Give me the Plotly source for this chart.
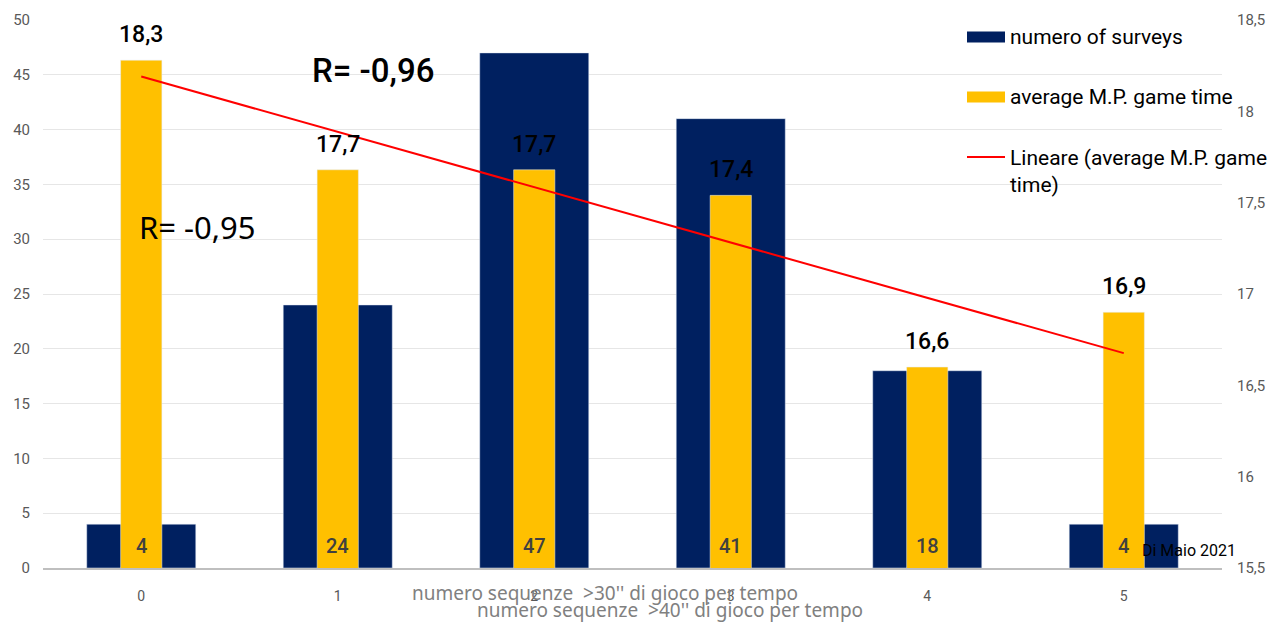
import numpy as np
import plotly.graph_objects as go

categories = [0, 1, 2, 3, 4, 5]
surveys = [4, 24, 47, 41, 18, 4]
game_time = [18.28, 17.68, 17.68, 17.54, 16.6, 16.9]
game_time_labels = ["18,3", "17,7", "17,7", "17,4", "16,6", "16,9"]
label_values = [18.3, 17.7, 17.7, 17.4, 16.6, 16.9]

NAVY = "#002060"
GOLD = "#FFC000"
RED = "#FF0000"
GRAY = "#595959"
TICKFONT = dict(family="Roboto", size=15, color=GRAY)

# linear trend of average M.P. game time (as Excel "Lineare")
slope, intercept = np.polyfit(categories, label_values, 1)
trend_x = [categories[0], categories[-1]]
trend_y = [intercept + slope * categories[0], intercept + slope * categories[-1]]

fig = go.Figure()
fig.add_trace(go.Bar(x=categories, y=surveys, width=0.555, marker_color=NAVY,
                     name="numero of surveys", yaxis="y"))
fig.add_trace(go.Bar(x=categories, y=game_time, width=0.21, marker_color=GOLD,
                     name="average M.P. game time", yaxis="y2"))
fig.add_trace(go.Scatter(x=trend_x, y=trend_y, mode="lines",
                         line=dict(color=RED, width=2),
                         name="Lineare (average M.P. game time)", yaxis="y2"))

annotations = []
for c, v in zip(categories, surveys):
    annotations.append(dict(x=c, y=0, xref="x", yref="y", text=str(v), showarrow=False,
                            yanchor="bottom", yshift=8,
                            font=dict(family="Roboto", size=20, color="#404040", weight=500)))
for c, v, t in zip(categories, game_time, game_time_labels):
    annotations.append(dict(x=c, y=v, xref="x", yref="y2", text=t, showarrow=False,
                            yanchor="bottom", yshift=10,
                            font=dict(family="Roboto", size=23, color="black", weight=500)))


def px(xp, yp):
    return (xp - 43) / (1222 - 43), (568 - yp) / (568 - 20)


for text, xp, yp, size, fam, weight, color in [
    ("R= -0,96", 373, 70, 33, "Roboto", 500, "black"),
    ("R= -0,95", 197, 227, 31, "Noto Sans", 400, "black"),
    ("Di Maio 2021", 1189, 550, 16, "Roboto", 400, "black"),
    ("numero sequenze  >30'' di gioco per tempo", 605, 593, 19, "Noto Sans", 400, "#808080"),
    ("numero sequenze  >40'' di gioco per tempo", 670, 610, 19, "Noto Sans", 400, "#808080"),
]:
    ax, ay = px(xp, yp)
    annotations.append(dict(x=ax, y=ay, xref="paper", yref="paper", text=text, showarrow=False,
                            xanchor="center", yanchor="middle",
                            font=dict(family=fam, size=size, color=color, weight=weight)))

# manual legend
legend_items = [
    ("numero of surveys", NAVY, "bar", 37),
    ("average M.P. game time", GOLD, "bar", 97),
    ("Lineare (average M.P. game<br>time)", RED, "line", 157),
]
shapes = []
for text, color, kind, yp in legend_items:
    x0, _ = px(967, 0)
    x1, _ = px(1005, 0)
    _, y0 = px(0, yp - 5.5)
    _, y1 = px(0, yp + 5.5)
    _, yc = px(0, yp)
    if kind == "bar":
        shapes.append(dict(type="rect", xref="paper", yref="paper", x0=x0, x1=x1, y0=y0, y1=y1,
                           fillcolor=color, line=dict(width=0)))
    else:
        shapes.append(dict(type="line", xref="paper", yref="paper", x0=x0, x1=x1, y0=yc, y1=yc,
                           line=dict(color=color, width=2)))
    tx, _ = px(1008, 0)
    annotations.append(dict(x=tx, y=yc, xref="paper", yref="paper", text=text, showarrow=False,
                            xanchor="left", yanchor="top" if kind == "line" else "middle",
                            yshift=13 if kind == "line" else 0, align="left",
                            font=dict(family="Roboto", size=21, color="black")))

fig.update_layout(
    width=1283, height=623,
    margin=dict(l=43, r=61, t=20, b=55),
    paper_bgcolor="white", plot_bgcolor="white",
    barmode="overlay", showlegend=False,
    separators=",.",
    xaxis=dict(range=[-0.5, 5.5], tickvals=categories, ticktext=[str(c) for c in categories],
               showgrid=False, showline=True, linecolor="#bfbfbf", linewidth=2,
               ticks="", tickfont=dict(family="Roboto", size=14, color=GRAY), zeroline=False,
               ticklabelstandoff=14),
    yaxis=dict(range=[0, 50], dtick=5, showgrid=True, gridcolor="#e6e6e6", gridwidth=1,
               zeroline=False, showline=False, ticks="", tickfont=TICKFONT, ticklabelstandoff=12),
    yaxis2=dict(range=[15.5, 18.5], dtick=0.5, overlaying="y", side="right", showgrid=False,
                zeroline=False, showline=False, ticks="", tickfont=dict(family="Roboto", size=15, color=GRAY),
                ticklabelstandoff=14),
    annotations=annotations,
    shapes=shapes,
)

fig.write_html("out.html")
